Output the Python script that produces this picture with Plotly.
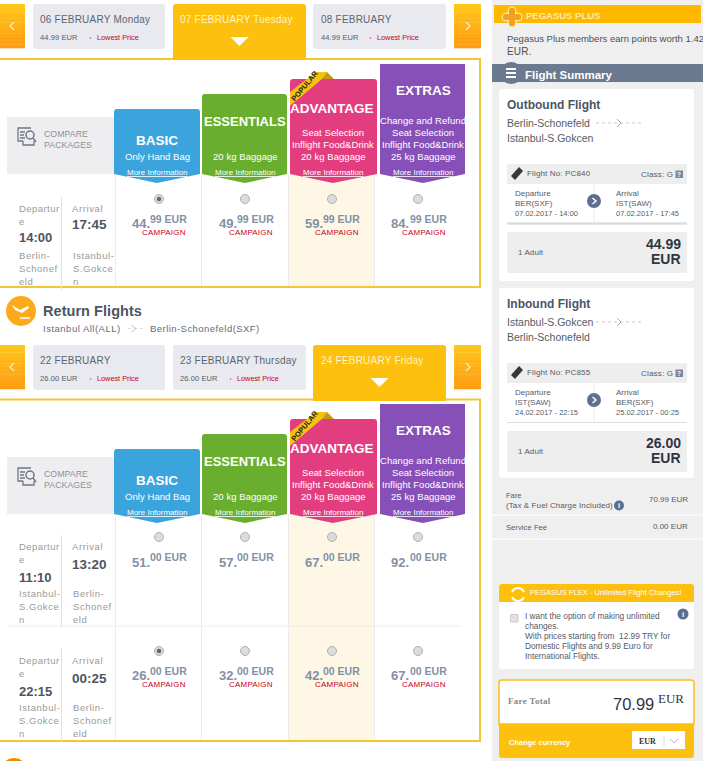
import plotly.graph_objects as go

# --- DATA ---
PACKAGES = ["BASIC", "ESSENTIALS", "ADVANTAGE", "EXTRAS"]
FEATURES = [
    ["Only Hand Bag"],
    ["20 kg Baggage"],
    ["Seat Selection", "Inflight Food&Drink", "20 kg Baggage"],
    ["Change and Refund", "Seat Selection", "Inflight Food&Drink", "25 kg Baggage"],
]
OUT_EUR = [44, 49, 59, 84]
RET1_EUR = [51, 57, 67, 92]
RET2_EUR = [26, 32, 42, 67]
OUT_DATES = ["06 FEBRUARY Monday", "07 FEBRUARY Tuesday", "08 FEBRUARY"]
OUT_FARES = ["44.99 EUR", None, "44.99 EUR"]
RET_DATES = ["22 FEBRUARY", "23 FEBRUARY Thursday", "24 FEBRUARY Friday"]
RET_FARES = ["26.00 EUR", "26.00 EUR", None]
FARE_LINES = ["Fare", "(Tax & Fuel Charge Included)", "Service Fee"]
FARE_VALUES = ["70.99 EUR", "0.00 EUR"]
FLEX_LINES = [
    "I want the option of making unlimited",
    "changes.",
    "With prices starting from  12.99 TRY for",
    "Domestic Flights and 9.99 Euro for",
    "International Flights.",
]

# --- LAYOUT / STYLE ---
W, H = 703, 761
SANS = "Liberation Sans"
SERIF = "Liberation Serif"
YELLOW = "#fdc00f"
BORDER = "#f5c534"
GREY_TXT = "#9a9a9a"
SLATE = "#5d6f8c"
COLS = [(114, 200), (202, 287), (290, 377), (380, 465)]
COL_COLORS = ["#3ba4dc", "#6aae2f", "#e23e7f", "#8650b8"]
COL_TOPS = [109, 94, 79, 64]
COL_CENTERS = [157, 245, 333, 423]
RADIO_X = [159, 245, 332, 418]
INT_X = [132, 219, 304.5, 391]
DEC_X = [150, 237, 323, 410]
CAMP_X = [142, 229, 315, 402]

shapes = []
notes = []


def rect(x0, y0, x1, y1, fill, line=None, lw=1):
    shapes.append(dict(type="rect", x0=x0, y0=y0, x1=x1, y1=y1, fillcolor=fill,
                       line=dict(color=line or fill, width=lw if line else 0)))


def path(d, fill=None, line=None, lw=1, dash=None):
    ln = dict(color=line or "rgba(0,0,0,0)", width=lw if line else 0)
    if dash:
        ln["dash"] = dash
    shapes.append(dict(type="path", path=d, fillcolor=fill or "rgba(0,0,0,0)", line=ln))


def circle(cx, cy, r, fill, line=None, lw=1):
    shapes.append(dict(type="circle", x0=cx - r, y0=cy - r, x1=cx + r, y1=cy + r, fillcolor=fill,
                       line=dict(color=line or fill, width=lw if line else 0)))


def hline(x0, x1, y, color, lw=1, dash=None):
    ln = dict(color=color, width=lw)
    if dash:
        ln["dash"] = dash
    shapes.append(dict(type="line", x0=x0, x1=x1, y0=y, y1=y, line=ln))


def vline(x, y0, y1, color, lw=1):
    shapes.append(dict(type="line", x0=x, x1=x, y0=y0, y1=y1, line=dict(color=color, width=lw)))


def txt(x, y, s, size=10, color="#555", anchor="left", bold=False, fam=SANS, sp=None, under=False, angle=0):
    t = f"<b>{s}</b>" if bold else s
    if sp:
        t = f'<span style="letter-spacing:{sp}px">{t}</span>'
    font = dict(size=size, color=color, family=fam)
    if under:
        font["lineposition"] = "under"
    notes.append(dict(x=x, y=y, text=t, showarrow=False, xanchor=anchor, yanchor="middle", font=font,
                      borderpad=0, borderwidth=0, textangle=angle))


def gradient(x0, y0, x1, y1, top, bottom, n=12):
    # shapes have no gradients, so stack thin strips
    c0 = [int(top[i:i + 2], 16) for i in (1, 3, 5)]
    c1 = [int(bottom[i:i + 2], 16) for i in (1, 3, 5)]
    h = (y1 - y0) / n
    for i in range(n):
        f = i / (n - 1)
        c = [round(a + (b - a) * f) for a, b in zip(c0, c1)]
        rect(x0, y0 + i * h, x1, y0 + (i + 1) * h + 0.3, f"rgb({c[0]},{c[1]},{c[2]})")


def rounded(x0, y0, x1, y1, fill, r=3):
    path(f"M{x0},{y1 - r} L{x0},{y0 + r} Q{x0},{y0} {x0 + r},{y0} L{x1 - r},{y0} Q{x1},{y0} {x1},{y0 + r} "
         f"L{x1},{y1 - r} Q{x1},{y1} {x1 - r},{y1} L{x0 + r},{y1} Q{x0},{y1} {x0},{y1 - r} Z", fill)


def date_row(y, dates, fares, selected):
    gradient(-3, y, 25, y + 44, "#ffc61c", "#ff9c12")
    gradient(454, y, 481, y + 44, "#ffc61c", "#ff9c12")
    path(f"M14,{y + 18} L10,{y + 22} L14,{y + 26}", None, "#ffe9b0", 1.5)
    path(f"M466,{y + 18} L470,{y + 22} L466,{y + 26}", None, "#ffe9b0", 1.5)
    cards = [(33, 165), (173, 306), (313, 446)]
    for i, (x0, x1) in enumerate(cards):
        tx = x0 + 7 if i != 2 else x0 + 8
        if i == selected:
            path(f"M{x0},{y + 56} L{x0},{y + 3} Q{x0},{y} {x0 + 3},{y} L{x1 - 3},{y} Q{x1},{y} {x1},{y + 3} "
                 f"L{x1},{y + 56} Z", YELLOW)
            txt(tx, y + 15, dates[i], 10, "#fff3c8", sp=0.22)
            cx = (x0 + x1) / 2
            path(f"M{cx - 9},{y + 33} L{cx + 9},{y + 33} L{cx},{y + 42} Z", "#ffffff")
        else:
            rounded(x0, y, x1, y + 45, "#e8eaef")
            txt(tx, y + 15, dates[i], 10, "#5c6470", sp=0.22)
            txt(tx, y + 33.5, fares[i], 7.5, "#555c68", sp=0.1)
            circle(x0 + 57.5, y + 34, 0.8, "#d05060")
            txt(x0 + 63.5, y + 33.5, "Lowest Price", 7.3, "#c8001a")


def header_block(dy):
    rect(7, 117 + dy, 114, 174 + dy, "#eeeef0")
    # compare icon
    path(f"M31,{128 + dy} L18,{128 + dy} L18,{141 + dy} L23,{141 + dy} M23,{141 + dy} L23,{145 + dy} L34,{145 + dy} "
         f"L34,{141 + dy} M20,{132 + dy} L25,{132 + dy} M20,{135 + dy} L24,{135 + dy} M20,{138 + dy} L25,{138 + dy}",
         None, "#6f7785", 1.3)
    circle(30, 135 + dy, 4, "rgba(0,0,0,0)", "#6f7785", 1.5)
    path(f"M33,{138 + dy} L36,{142 + dy}", None, "#6f7785", 1.5)
    txt(43.5, 133.5 + dy, "COMPARE", 8.7, "#8a909a", sp=0.1)
    txt(43.5, 144.5 + dy, "PACKAGES", 8.7, "#8a909a", sp=0.1)
    for i, name in enumerate(PACKAGES):
        x0, x1 = COLS[i]
        top = COL_TOPS[i] + dy
        b = 174 + dy
        mid = COL_CENTERS[i]
        r = 0 if i == 3 else 3
        path(f"M{x0},{b} L{x0},{top + r} Q{x0},{top} {x0 + r},{top} L{x1 - r},{top} Q{x1},{top} {x1},{top + r} "
             f"L{x1},{b} L{mid},{b + 9} Z", COL_COLORS[i])
        feats = FEATURES[i]
        for j, line in enumerate(feats):
            txt(mid, 156 + dy - 12 * (len(feats) - 1 - j), line, 9.5, "#ffffff", "center", sp=0.06)
        title_y = [140, 121, 108, 90][i] + dy
        size = 13 if i == 1 else 13.5
        txt(mid - (1 if i == 2 else 0), title_y, name, size, "#ffffff", "center", bold=True)
        txt(mid, 172 + dy, "More Information", 8, "#ffffff", "center", under=True)
    # POPULAR ribbon
    path(f"M316,{72 + dy} L327,{72 + dy} L334,{79 + dy} L322,{79 + dy} Z", "#c49a1a")
    path(f"M290,{106 + dy} L290,{92 + dy} L316,{72 + dy} L327,{72 + dy} L322,{79 + dy} Z", "#f5c211")
    txt(304, 86 + dy, "POPULAR", 7.5, "#222222", "center", bold=True, angle=-50)


def columns(y0, y1):
    rect(289, y0, 374, y1, "#fef7e6")
    for x in (115.5, 201.5, 288.5, 374.5):
        vline(x, y0, y1, "#ececee")


def flight_row(y, dep_lines, arr_lines, dep, arr, dep_y, arr_y, eur, cents, campaign):
    # y is the radio centre of the row
    yy = y - 199
    vline(61.5, y - 2, y + 91, "#e2e2e2")
    txt(19, 208 + yy, "Departur", 9.5, GREY_TXT, sp=0.45)
    txt(19, 221 + yy, "e", 9.5, GREY_TXT)
    txt(18.5, dep_y, dep, 13, "#4d5563", bold=True)
    txt(72, 208 + yy, "Arrival", 9.5, GREY_TXT, sp=0.6)
    txt(72, arr_y, arr, 13.5, "#4d5563", bold=True)
    for k in range(3):
        txt(19, 255.5 + yy + 13 * k, dep_lines[k], 9.5, GREY_TXT, sp=0.55)
        txt(72.5, 255.5 + yy + 13 * k, arr_lines[k], 9.5, GREY_TXT, sp=0.55)
    for i in range(4):
        txt(INT_X[i], 223.5 + yy + (1 if not campaign else 0), f"{eur[i]}.", 13, "#8490a5", bold=True)
        txt(DEC_X[i], 219 + yy, f"{cents} EUR", 10.5, "#8490a5", bold=True)
        if campaign:
            txt(CAMP_X[i], 232 + yy, "CAMPAIGN", 8, "#c8001a", sp=0.2)


# --- LEFT COLUMN ---
rect(0, 0, W, H, "#ffffff")
columns(174, 286)
columns(514, 740)

# panels
path("M-3,59 L480,59 L480,287 L-3,287", None, BORDER, 2)
path("M-3,399.5 L480,399.5 L480,741 L-3,741", None, BORDER, 2)

date_row(4, OUT_DATES, OUT_FARES, 1)
date_row(345, RET_DATES, RET_FARES, 2)
header_block(0)
header_block(340)

flight_row(199, ["Berlin-", "Schonef", "eld"], ["Istanbul-", "S.Gokce", "n"], "14:00", "17:45",
           237, 224, OUT_EUR, "99", True)
flight_row(537, ["Istanbul-", "S.Gokce", "n"], ["Berlin-", "Schonef", "eld"], "11:10", "13:20",
           577, 564, RET1_EUR, "00", False)
hline(8, 462, 626, "#ececee")
flight_row(651, ["Istanbul-", "S.Gokce", "n"], ["Berlin-", "Schonef", "eld"], "22:15", "00:25",
           691, 678, RET2_EUR, "00", True)

# return flights heading
circle(21, 311, 15, "#fda91c")
path("M12,305 L20,310 L28,306 L29,308 L22,313 L15,310 Z", "#ffffff")
hline(20, 30, 318, "#ffffff", 1.5)
txt(43, 311, "Return Flights", 14.5, "#4d5563", bold=True, sp=0.05)
txt(43, 328.5, "Istanbul All(ALL)", 9.5, "#666c76", sp=0.5)
hline(128, 144, 328.5, "#dddddd", 1, "dot")
path("M131,325 L136,328.5 L131,332", None, "#cccccc", 1)
txt(149.5, 328.5, "Berlin-Schonefeld(SXF)", 9.5, "#666c76", sp=0.45)

# next section icon, cut off by the window
circle(14, 772, 14, "#f08a00")

# --- SIDEBAR ---
rect(492, 0, W, H, "#efefef")
rect(494, 5, 701, 23, "#ffb800")
circle(512, 17, 6, "#f2a21e", "#fff3c8", 1)
circle(506, 17, 4, "#f2a21e", "#fff3c8", 1)
circle(518, 17, 4, "#f2a21e", "#fff3c8", 1)
circle(512, 11, 4, "#f2a21e", "#fff3c8", 1)
circle(512, 23, 4, "#f2a21e", "#fff3c8", 1)
circle(512, 17, 4.5, "#f2a21e")
txt(526, 15, "PEGASUS PLUS", 9.5, "#ffe9a8", bold=True)
txt(507, 38, "Pegasus Plus members earn points worth 1.42", 9.5, "#4a4f58")
txt(507, 51, "EUR.", 10, "#4a4f58", sp=0.2)
rect(492, 64, W, 82, "#6b7a90")
circle(511, 73, 11, "#6b7a90")
for yb in (69, 73, 77):
    hline(506, 516, yb, "#ffffff", 2)
txt(525, 75, "Flight Summary", 11.5, "#ffffff", bold=True)


def flight_card(dy, bottom, title, route, flight_no, dep, arr, price, bar_h):
    rounded(499, 89 + dy, 694, bottom, "#ffffff", 3)
    txt(507, 105 + dy, title, 12, "#4d5563", bold=True)
    txt(507, 123 + dy, route[0], 10.5, "#555b66")
    txt(507, 137.5 + dy, route[1], 10.5, "#555b66")
    hline(596, 644, 123 + dy, "#bbbbbb", 0.8, "dot")
    path(f"M617,{119 + dy} L621,{123 + dy} L617,{127 + dy}", None, "#aaaaaa", 1)
    rect(507, 164 + dy, 687, 184 + dy, "#eeeeee")
    path(f"M511,{176 + dy} L519,{167 + dy} L523,{171 + dy} L515,{180 + dy} Z", "#33383f")
    txt(527, 173 + dy, flight_no, 8, "#555b66", sp=0.15)
    txt(641, 174 + dy, "Class: G", 8, "#555b66", sp=0.2)
    rect(675.5, 170.5 + dy, 683, 178 + dy, "#7a8699")
    txt(679.2, 174.2 + dy, "?", 6.5, "#ffffff", "center", bold=True)
    vline(594, 184 + dy, 222 + dy, "#f2f2f2", 1.5)
    for k, line in enumerate(dep):
        txt(514.5, 193 + dy + 10 * k, line, 7.5 if k == 2 else 8, "#555b66")
    for k, line in enumerate(arr):
        txt(616, 193 + dy + 10 * k, line, 7.5 if k == 2 else 8, "#555b66")
    circle(594, 201 + dy, 7, SLATE)
    path(f"M592.5,{198 + dy} L596,{201 + dy} L592.5,{204 + dy}", None, "#ffffff", 1.5)
    hline(507, 687, 223.5 + dy, "#dddddd", bar_h)
    rect(507, 232 + dy, 687, 273 + dy, "#eeeeee")
    txt(518, 252 + dy, "1 Adult", 8, "#555b66", sp=0.1)
    txt(681, 244 + dy, price, 14, "#2f3542", "right", bold=True)
    txt(681, 259 + dy, "EUR", 14, "#2f3542", "right", bold=True)


flight_card(0, 281, "Outbound Flight", ["Berlin-Schonefeld", "Istanbul-S.Gokcen"], "Flight No: PC840",
            ["Departure", "BER(SXF)", "07.02.2017 - 14:00"], ["Arrival", "IST(SAW)", "07.02.2017 - 17:45"],
            "44.99", 2.5)
flight_card(199, 478, "Inbound Flight", ["Istanbul-S.Gokcen", "Berlin-Schonefeld"], "Flight No: PC855",
            ["Departure", "IST(SAW)", "24.02.2017 - 22:15"], ["Arrival", "BER(SXF)", "25.02.2017 - 00:25"],
            "26.00", 1)

txt(506, 495, FARE_LINES[0], 7.5, "#555b66")
txt(506, 505.5, FARE_LINES[1], 8, "#555b66", sp=0.1)
circle(619, 505.5, 5, SLATE)
txt(619, 505.5, "i", 7.5, "#ffffff", "center", bold=True)
txt(688, 499, FARE_VALUES[0], 8, "#555b66", "right")
hline(492, W, 515, "#ffffff")
txt(506, 527, FARE_LINES[2], 7.5, "#555b66", sp=0.1)
txt(688, 526, FARE_VALUES[1], 8, "#555b66", "right")
hline(492, W, 539, "#ffffff")

# flex box
rounded(499, 584, 694, 669, "#ffffff", 3)
path("M499,602 L499,587 Q499,584 502,584 L691,584 Q694,584 694,587 L694,602 Z", YELLOW)
path("M512,592 Q514,588 518,588 Q522,588 524,592 M524,597 Q522,601 518,601 Q514,601 512,597", None, "#ffffff", 2)
txt(530, 592, "PEGASUS FLEX - Unlimited Flight Changes!", 7.6, "#ffffff")
rect(510.5, 614.5, 518, 622, "#e2e2e2", "#cccccc")
for k, line in enumerate(FLEX_LINES):
    txt(525, 616 + 10 * k, line, 8.3, "#555b66")
circle(683, 614, 5.5, SLATE)
txt(683, 614, "i", 8, "#ffffff", "center", bold=True)

# total box
path("M499,724 L499,683 Q499,680 502,680 L691,680 Q694,680 694,683 L694,724 Z", "#ffffff", YELLOW, 1.5)
path("M499,724 L694,724 L694,755 Q694,758 691,758 L502,758 Q499,758 499,755 Z", YELLOW)
txt(508, 701, "Fare Total", 9, "#888888", bold=True, fam=SERIF, sp=0.3)
txt(612.5, 703.5, "70.99", 16.5, "#2f3542")
txt(658, 698, "EUR", 13, "#2f3542", fam=SERIF)
txt(508.5, 742, "Change currency", 7.5, "#ffffff", bold=True)
rect(632, 731, 685, 749, "#ffffff")
txt(638.5, 741, "EUR", 8, "#333333", bold=True, fam=SERIF)
vline(664, 735, 746, "#dddddd")
path("M670,739 L674,743 L678,739", None, "#bbbbbb", 1)

# radio buttons
radio_y = [199, 537, 651]
selected = [0, None, 0]
xs, ys, dots_x, dots_y = [], [], [], []
for row, y in enumerate(radio_y):
    for i, x in enumerate(RADIO_X):
        xs.append(x)
        ys.append(y)
        if selected[row] == i:
            dots_x.append(x)
            dots_y.append(y)

fig = go.Figure()
fig.add_trace(go.Scatter(x=xs, y=ys, mode="markers", hoverinfo="skip", showlegend=False,
                         marker=dict(size=9, color="#dcdcdc", line=dict(color="#b0b0b0", width=1))))
fig.add_trace(go.Scatter(x=dots_x, y=dots_y, mode="markers", hoverinfo="skip", showlegend=False,
                         marker=dict(size=4.5, color="#666666")))
fig.update_layout(
    width=W,
    height=H,
    margin=dict(l=0, r=0, t=0, b=0),
    paper_bgcolor="#ffffff",
    plot_bgcolor="#ffffff",
    xaxis=dict(range=[0, W], visible=False, fixedrange=True),
    yaxis=dict(range=[H, 0], visible=False, fixedrange=True),
    shapes=[dict(s, layer="below") for s in shapes],
    annotations=notes,
    showlegend=False,
)
fig.write_html("out.html", config={"displayModeBar": False},
               post_script="document.body.style.margin='0';document.body.style.overflow='hidden';")
